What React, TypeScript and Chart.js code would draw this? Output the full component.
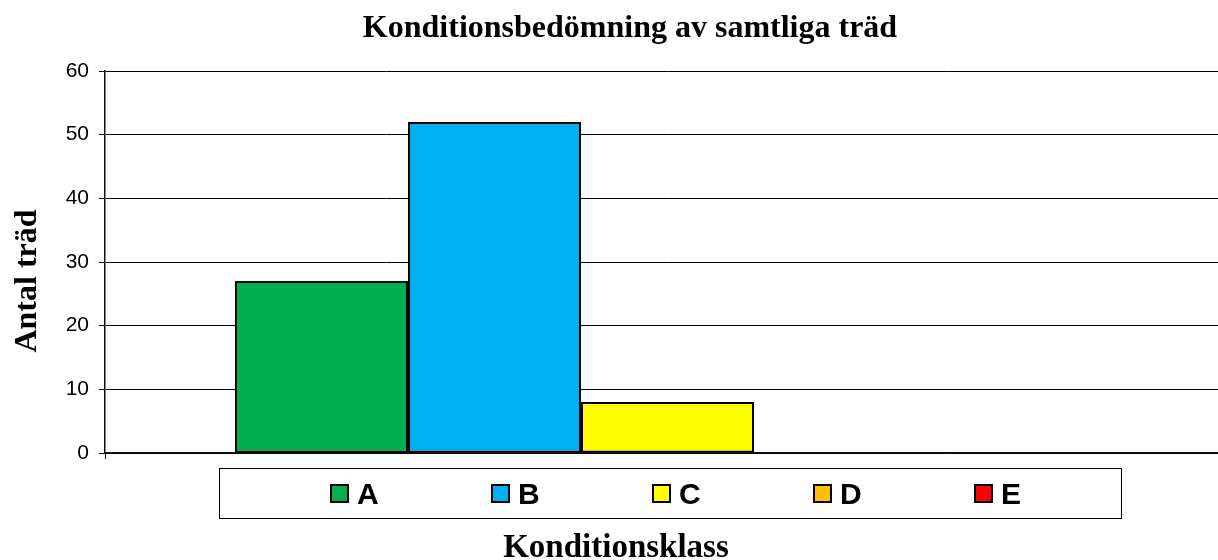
import React, { useEffect, useRef } from 'react';
import { Chart, registerables } from 'chart.js';

Chart.register(...registerables);

// ---- data ----
const chartTitle = 'Konditionsbedömning av samtliga träd';
const yAxisTitle = 'Antal träd';
const xAxisTitle = 'Konditionsklass';
const categories = [''];
const classLabels = ['A', 'B', 'C', 'D', 'E'];
const classValues = [27, 52, 8, 0, 0];
const classColors = ['#00B050', '#00B0F0', '#FFFF00', '#FFC000', '#FF0000'];
const yMin = 0;
const yMax = 60;
const yStep = 10;

const SERIF = "'Times New Roman', 'Liberation Serif', serif";
const SANS = "Arial, 'Liberation Sans', sans-serif";

const W = 1232;
const H = 560;

const decorPlugin = {
  id: 'decor',
  afterDraw(chart: any) {
    const ctx = chart.ctx as CanvasRenderingContext2D;
    ctx.save();
    ctx.fillStyle = '#000';
    // main title
    ctx.font = `bold 32px ${SERIF}`;
    ctx.textAlign = 'center';
    ctx.textBaseline = 'alphabetic';
    ctx.fillText(chartTitle, 630, 37);
    // x title
    ctx.font = `bold 33px ${SERIF}`;
    ctx.fillText(xAxisTitle, 616, 557);
    // y title
    ctx.font = `bold 32px ${SERIF}`;
    ctx.save();
    ctx.translate(36, 281);
    ctx.rotate(-Math.PI / 2);
    ctx.textAlign = 'center';
    ctx.textBaseline = 'alphabetic';
    ctx.fillText(yAxisTitle, 0, 0);
    ctx.restore();

    // left tick under x axis at category boundary
    const ca = chart.chartArea;
    ctx.strokeStyle = '#000';
    ctx.lineWidth = 1;
    ctx.beginPath();
    ctx.moveTo(Math.round(ca.left) + 0.5, ca.bottom);
    ctx.lineTo(Math.round(ca.left) + 0.5, ca.bottom + 6);
    ctx.stroke();

    // legend box
    const boxL = 219, boxT = 468, boxW = 902, boxH = 50;
    ctx.strokeStyle = '#000';
    ctx.lineWidth = 1;
    ctx.strokeRect(boxL + 0.5, boxT + 0.5, boxW, boxH);
    const slot = 161;
    const first = boxL + 111;
    ctx.font = `bold 30px ${SANS}`;
    ctx.textAlign = 'left';
    chart.data.datasets.forEach((ds: any, i: number) => {
      const x = first + i * slot;
      const y = 484;
      ctx.fillStyle = '#000';
      ctx.fillRect(x, y, 19, 19);
      ctx.fillStyle = ds.backgroundColor;
      ctx.fillRect(x + 2, y + 2, 15, 15);
      ctx.fillStyle = '#000';
      ctx.fillText(ds.label, x + 27, 504);
    });
    ctx.restore();
  },
};

export default function App() {
  const ref = useRef<HTMLCanvasElement | null>(null);
  useEffect(() => {
    if (!ref.current) return;
    const chart = new Chart(ref.current, {
      type: 'bar',
      data: {
        labels: categories,
        datasets: classLabels.map((lab, i) => ({
          label: lab,
          data: [classValues[i]],
          backgroundColor: classColors[i],
          borderColor: '#000',
          borderWidth: 2,
          borderSkipped: false,
          inflateAmount: 0,
          barPercentage: 1,
          categoryPercentage: 865 / 1125,
        })),
      },
      options: {
        responsive: false,
        animation: false,
        devicePixelRatio: 1,
        layout: { padding: { top: 71, left: 65, right: 2, bottom: 0 } },
        plugins: {
          legend: { display: false },
          title: { display: false },
          tooltip: { enabled: false },
        },
        scales: {
          x: {
            grid: { drawOnChartArea: false, drawTicks: true, tickLength: 6, color: '#000' },
            border: { color: '#111', width: 1.5 },
            ticks: { display: false },
            afterFit: (s: any) => { s.height = H - 453; },
          },
          y: {
            min: yMin,
            max: yMax,
            ticks: {
              stepSize: yStep,
              color: '#000',
              padding: 10,
              font: { family: SANS, size: 21 },
            },
            grid: { color: '#000', lineWidth: 1, tickLength: 6, tickColor: '#000' },
            border: { color: '#111', width: 1.5 },
            afterFit: (s: any) => { s.width = 40; },
          },
        },
      },
      plugins: [decorPlugin],
    });
    return () => chart.destroy();
  }, []);
  return (
    <div style={{ position: 'absolute', left: 0, top: 0, width: 1218, height: 560, overflow: 'hidden', background: '#fff' }}>
      <canvas ref={ref} width={W} height={H} style={{ display: 'block' }} />
    </div>
  );
}
